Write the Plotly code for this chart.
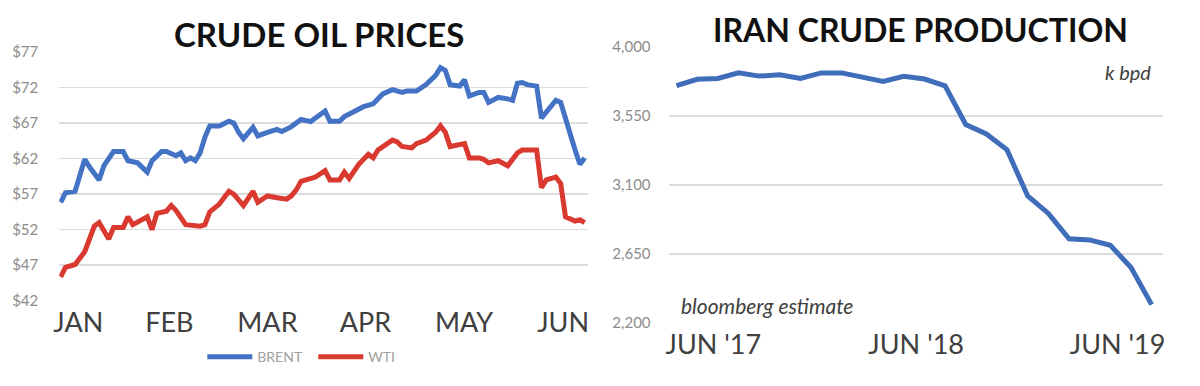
import plotly.graph_objects as go

# ---------------- Left chart: crude oil prices (trading-day index) ----------------
brent_day = [0, 1, 3, 4, 5, 6, 8, 9, 11, 13, 14, 16, 18, 19, 21, 22, 23, 24, 25, 26,
             27, 28, 29, 30, 31, 33, 35, 36, 37, 38, 40, 41, 43, 45, 46, 48, 50, 52, 53, 55,
             56, 58, 59, 61, 63, 65, 67, 69, 71, 72, 74, 76, 78, 79, 80, 81, 83, 84, 85, 87,
             88, 89, 91, 93, 94, 95, 96, 97, 99, 100, 101, 103, 104, 106, 107, 108, 109]
brent = [55.85, 57.2, 57.4, 59.7, 61.9, 60.8, 59.0, 61.0, 63.0, 63.0, 61.7, 61.4, 60.1, 61.7, 63.0, 63.0, 62.6, 62.4, 62.8, 61.7,
         62.1, 61.7, 62.8, 65.0, 66.6, 66.6, 67.25, 67.0, 65.7, 64.8, 66.4, 65.2, 65.7, 66.1, 65.8, 66.5, 67.5, 67.2, 67.7, 68.7,
         67.25, 67.25, 67.9, 68.6, 69.3, 69.7, 71.1, 71.7, 71.3, 71.5, 71.5, 72.4, 73.7, 74.8, 74.4, 72.4, 72.2, 73.1, 70.8, 71.3,
         71.3, 69.9, 70.6, 70.4, 70.2, 72.6, 72.7, 72.4, 72.2, 67.7, 68.6, 70.2, 69.9, 65.0, 63.2, 61.2, 62.1]

wti_day = [0, 1, 3, 5, 7, 8, 10, 11, 13, 14, 15, 17, 18, 19, 20, 22, 23, 24, 25, 26,
           29, 30, 31, 33, 35, 36, 38, 40, 41, 43, 45, 47, 48, 49, 50, 52, 53, 55, 56, 58,
           59, 60, 62, 64, 65, 66, 69, 70, 71, 73, 74, 76, 78, 79, 80, 81, 83, 84, 85, 87,
           88, 89, 91, 93, 95, 96, 99, 100, 101, 103, 104, 105, 107, 108, 109]
wti = [45.35, 46.7, 47.1, 48.9, 52.5, 53.0, 50.7, 52.3, 52.3, 53.8, 52.7, 53.4, 53.8, 52.0, 54.3, 54.6, 55.4, 54.7, 53.8, 52.7,
       52.5, 52.7, 54.5, 55.6, 57.4, 57.0, 55.4, 57.4, 55.85, 56.75, 56.5, 56.3, 56.75, 57.6, 58.8, 59.2, 59.4, 60.3, 59.0, 59.0,
       60.1, 59.2, 61.2, 62.6, 62.1, 63.2, 64.6, 64.35, 63.7, 63.5, 64.1, 64.6, 65.7, 66.6, 65.7, 63.7, 63.9, 64.1, 62.1, 62.1,
       61.9, 61.4, 61.7, 61.0, 62.8, 63.2, 63.2, 57.9, 59.0, 59.4, 58.5, 53.8, 53.2, 53.4, 53.0]

month_labels = ["JAN", "FEB", "MAR", "APR", "MAY", "JUN"]
month_pos = [3.66, 22.6, 43.0, 63.4, 83.9, 104.5]
price_ticks = [42, 47, 52, 57, 62, 67, 72, 77]

# ---------------- Right chart: Iran crude production (k bpd) ----------------
production = [3749, 3790, 3796, 3832, 3811, 3820, 3796, 3832, 3832, 3805,
              3776, 3810, 3792, 3747, 3495, 3433, 3329, 3028, 2914, 2748,
              2741, 2706, 2561, 2318]
prod_labels = ["JUN '17", "JUN '18", "JUN '19"]
prod_label_pos = [1.78, 11.6, 21.35]
prod_ticks = [2200, 2650, 3100, 3550, 4000]

FONT = "Lato, 'Open Sans', sans-serif"
BLUE = "#4472C4"
RED = "#D9392F"

fig = go.Figure()
fig.add_trace(go.Scatter(x=brent_day, y=brent, mode="lines", name="BRENT",
                         line=dict(color=BLUE, width=5), xaxis="x", yaxis="y"))
fig.add_trace(go.Scatter(x=wti_day, y=wti, mode="lines", name="WTI",
                         line=dict(color=RED, width=5), xaxis="x", yaxis="y"))
fig.add_trace(go.Scatter(x=list(range(len(production))), y=production, mode="lines",
                         name="Iran production", showlegend=False,
                         line=dict(color="#3F6DBA", width=5), xaxis="x2", yaxis="y2"))

fig.update_layout(
    width=1200, height=386,
    margin=dict(l=0, r=0, t=0, b=0),
    paper_bgcolor="white", plot_bgcolor="white",
    font=dict(family=FONT),
    xaxis=dict(domain=[53.6 / 1200, 585.5 / 1200], range=[-0.3, 109.6],
               tickmode="array", tickvals=month_pos, ticktext=month_labels,
               showgrid=False, zeroline=False, showline=False, ticks="",
               tickfont=dict(family=FONT, size=27, color="#404040"),
               ticklabelstandoff=3),
    yaxis=dict(domain=[(386 - 305) / 386, (386 - 44) / 386], range=[42, 77],
               tickmode="array", tickvals=price_ticks,
               ticktext=["$%d" % v for v in price_ticks],
               showgrid=True, gridcolor="#DCDCDC", gridwidth=1.5,
               zeroline=False, showline=False, ticks="",
               tickfont=dict(family=FONT, size=15, color="#8C8C8C"),
               ticklabelstandoff=20),
    xaxis2=dict(domain=[667 / 1200, 1165 / 1200], range=[-0.385, 23.56],
                tickmode="array", tickvals=prod_label_pos, ticktext=prod_labels,
                showgrid=False, zeroline=False, showline=False, ticks="",
                tickfont=dict(family=FONT, size=27, color="#404040"),
                ticklabelstandoff=3, anchor="y2"),
    yaxis2=dict(domain=[(386 - 328) / 386, (386 - 39) / 386], range=[2200, 4000],
                tickmode="array", tickvals=prod_ticks,
                ticktext=["{:,}".format(v) for v in prod_ticks],
                showgrid=True, gridcolor="#DCDCDC", gridwidth=1.5,
                zeroline=False, showline=False, ticks="",
                tickfont=dict(family=FONT, size=15, color="#8C8C8C"),
                ticklabelstandoff=17, anchor="x2"),
    legend=dict(orientation="h", x=0.2578, xanchor="center", y=(386 - 364) / 386,
                yanchor="middle", font=dict(family=FONT, size=14, color="#A0A0A0"),
                bgcolor="rgba(0,0,0,0)", itemwidth=45, entrywidth=51,
                entrywidthmode="pixels"),
    annotations=[
        dict(text="<b>CRUDE OIL PRICES</b>", x=315.5 / 1200, y=(386 - 25) / 386,
             xref="paper", yref="paper", showarrow=False, xanchor="center", yanchor="middle",
             font=dict(family=FONT, size=33, color="#111111")),
        dict(text="<b>IRAN CRUDE PRODUCTION</b>", x=921 / 1200, y=(386 - 20) / 386,
             xref="paper", yref="paper", showarrow=False, xanchor="center", yanchor="middle",
             font=dict(family=FONT, size=32, color="#111111")),
        dict(text="<i>k bpd</i>", x=1130 / 1200, y=(386 - 65) / 386,
             xref="paper", yref="paper", showarrow=False, xanchor="center", yanchor="middle",
             font=dict(family=FONT, size=20, color="#404040")),
        dict(text="<i>bloomberg estimate</i>", x=766 / 1200, y=(386 - 310) / 386,
             xref="paper", yref="paper", showarrow=False, xanchor="center", yanchor="middle",
             font=dict(family=FONT, size=21, color="#404040")),
    ],
)

fig.write_html("out.html",
               config={"displayModeBar": False, "staticPlot": True},
               post_script="document.body.style.margin='0';document.body.style.overflow='hidden';")
